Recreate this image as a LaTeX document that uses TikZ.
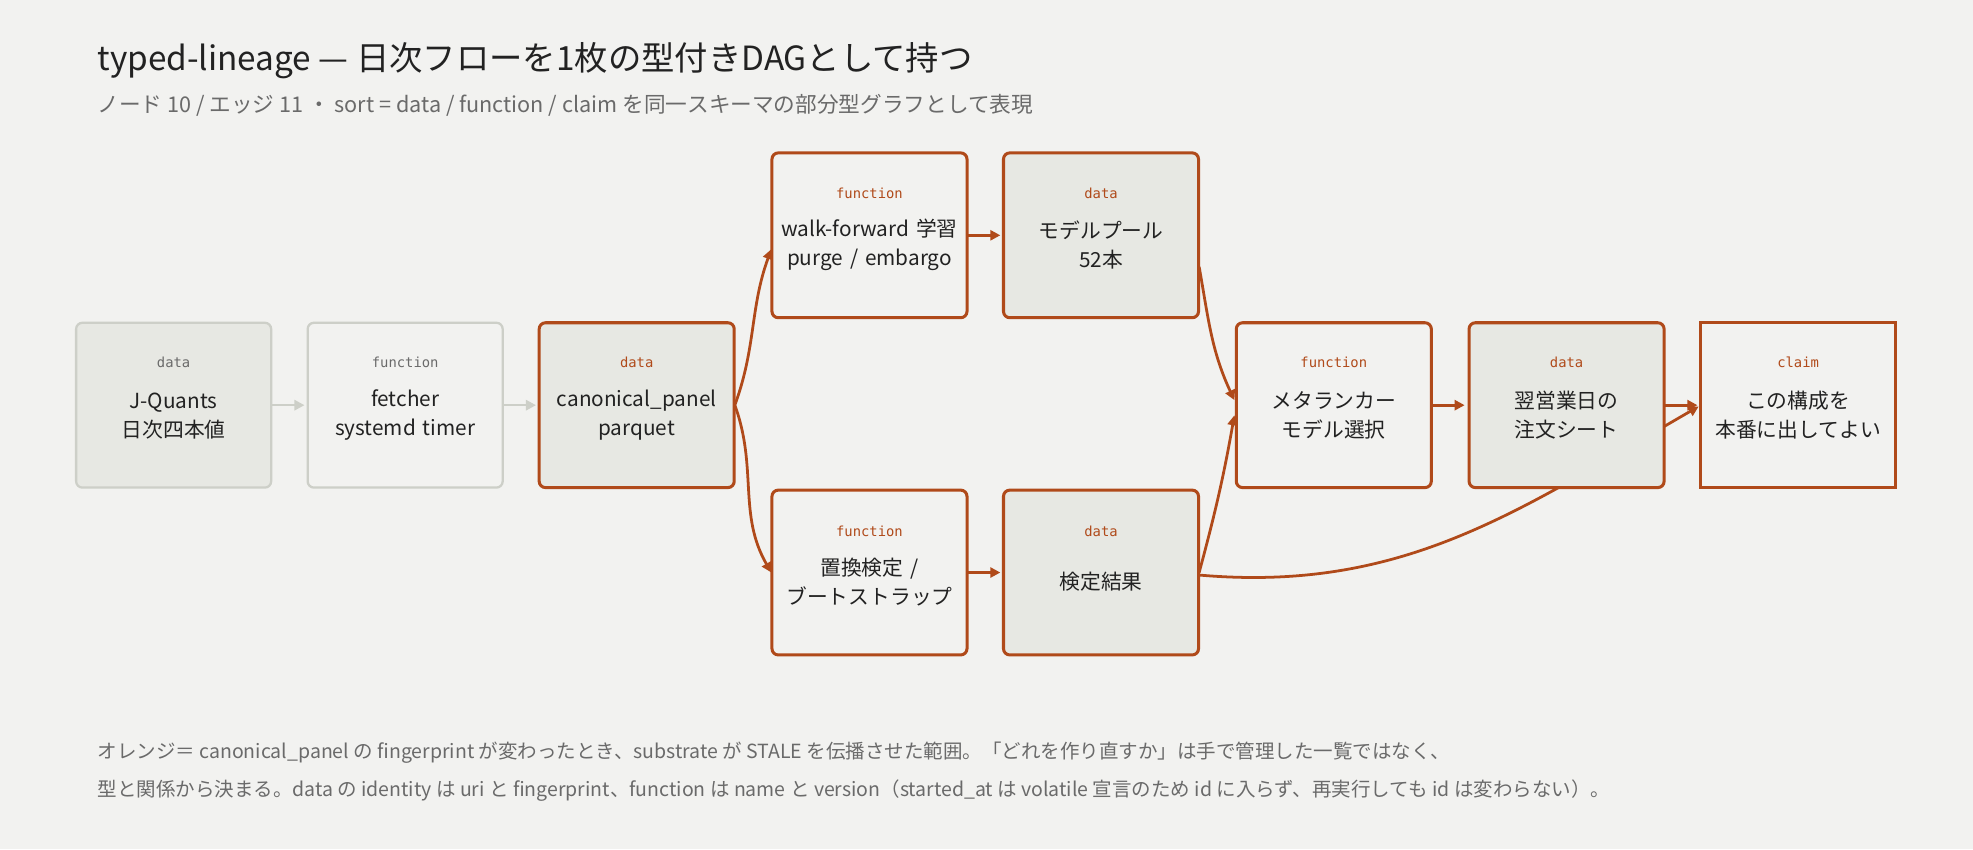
\documentclass[tikz,border=0pt]{standalone}
\usepackage{fontspec}
\setmainfont{Noto Sans CJK JP}
\newfontfamily\monof{DejaVu Sans Mono}
\usetikzlibrary{arrows.meta}
\definecolor{bg}{HTML}{F2F2F0}
\definecolor{org}{HTML}{B04A1A}
\definecolor{gry}{HTML}{CDCFC8}
\definecolor{dfill}{HTML}{E7E8E3}
\definecolor{txt}{HTML}{222222}
\definecolor{sub}{HTML}{6A6A6A}
\begin{document}
\begin{tikzpicture}[x=1pt,y=-1pt,
  box/.style={draw=org,line width=2.4pt,rounded corners=5pt,minimum width=155pt,minimum height=131pt,
    text width=152pt,align=center,font=\fontsize{16.5}{23}\selectfont,text=txt,inner sep=0pt},
  dat/.style={box,fill=dfill},
  fun/.style={box,fill=bg},
  lab/.style={font=\monof\fontsize{11}{12}\selectfont,text=org},
  e/.style={draw=org,line width=2.2pt,-{Triangle[length=8pt,width=8pt]}},
  ge/.style={draw=gry,line width=2pt,-{Triangle[length=8pt,width=8pt]}}]
\fill[bg] (0,0) rectangle (1568,675);
\useasboundingbox (0,0) rectangle (1568,675);
\node[anchor=west,font=\fontsize{26.5}{30}\selectfont,text=txt] (title) at (74,48) {typed-lineage — 日次フローを1枚の型付きDAGとして持つ};
\node[anchor=west,font=\fontsize{17.2}{20}\selectfont,text=sub] (subt) at (74,84) {ノード 10 / エッジ 11 ・ sort = data / function / claim を同一スキーマの部分型グラフとして表現};
% edges behind nodes
\draw[ge] (216,322) -- (242,322);
\draw[ge] (400,322) -- (426,322);
\draw[e] (584,322) to[out=70,in=250] (613,198);
\draw[e] (584,322) to[out=-70,in=120] (613,455);
\draw[e] (769,187) -- (795,187);
\draw[e] (769,455) -- (795,455);
\draw[e] (953,212) to[out=-80,in=115] (981,318);
\draw[e] (953,455) to[out=75,in=-100] (981,330);
\draw[e] (953,457) to[out=-5,in=210] (1350,323);
\draw[e] (1138,322) -- (1164,322);
\draw[e] (1323,322) -- (1349,322);
% nodes
\node[dat,draw=gry,line width=1.8pt,text=txt] (jq) at (138,322) {\\[6pt]J-Quants\\日次四本値};
\node[fun,draw=gry,line width=1.8pt] (fe) at (322,322) {\\[6pt]fetcher\\systemd timer};
\node[dat] (cp) at (506,322) {\\[6pt]canonical\_panel\\parquet};
\node[fun] (wf) at (691,187) {\\[6pt]walk-forward 学習\\purge / embargo};
\node[dat] (mp) at (875,187) {\\[6pt]モデルプール\\52本};
\node[fun] (pt) at (691,455) {\\[6pt]置換検定 /\\ブートストラップ};
\node[dat] (kr) at (875,455) {\\[6pt]検定結果};
\node[fun] (mr) at (1060,322) {\\[6pt]メタランカー\\モデル選択};
\node[dat] (os) at (1245,322) {\\[6pt]翌営業日の\\注文シート};
\node[fun,rounded corners=0pt] (cl) at (1429,322) {\\[6pt]この構成を\\本番に出してよい};
% type labels
\node[lab,text=sub] at (138,288) {data};
\node[lab,text=sub] at (322,288) {function};
\node[lab] at (506,288) {data};
\node[lab] at (691,154) {function};
\node[lab] at (875,154) {data};
\node[lab] at (691,422) {function};
\node[lab] at (875,422) {data};
\node[lab] at (1060,288) {function};
\node[lab] at (1245,288) {data};
\node[lab] at (1429,288) {claim};
\node[anchor=west,font=\fontsize{15.5}{18}\selectfont,text=sub] (n1) at (74,598) {オレンジ＝ canonical\_panel の fingerprint が変わったとき、substrate が STALE を伝播させた範囲。「どれを作り直すか」は手で管理した一覧ではなく、};
\node[anchor=west,font=\fontsize{15.5}{18}\selectfont,text=sub] (n2) at (74,628) {型と関係から決まる。data の identity は uri と fingerprint、function は name と version（started\_at は volatile 宣言のため id に入らず、再実行しても id は変わらない）。};
\end{tikzpicture}
\end{document}
